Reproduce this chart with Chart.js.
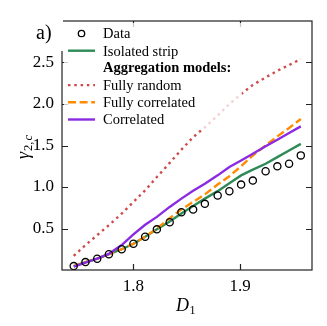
<!DOCTYPE html>
<html>
<head>
<meta charset="utf-8">
<script src="https://cdn.jsdelivr.net/npm/chart.js@4/dist/chart.umd.min.js"></script>
<style>
  html, body { margin: 0; padding: 0; background: #fff; }
  #c { display: block; }
</style>
</head>
<body>
<canvas id="c" width="327" height="326"></canvas>
<script>
// D1 values (x) and gamma_{2,c} for each curve
const dVals      = [1.744, 1.755, 1.766, 1.777, 1.789, 1.800, 1.811, 1.822, 1.834, 1.845, 1.856, 1.867, 1.879, 1.890, 1.901, 1.912, 1.924, 1.935, 1.946, 1.957];
const dataVals   = [0.047, 0.095, 0.136, 0.19, 0.25, 0.316, 0.40, 0.49, 0.576, 0.696, 0.728, 0.797, 0.897, 0.948, 1.029, 1.077, 1.189, 1.249, 1.281, 1.381];
const stripVals  = [0.047, 0.095, 0.136, 0.19, 0.25, 0.316, 0.40, 0.49, 0.585, 0.68, 0.77, 0.86, 0.95, 1.045, 1.14, 1.21, 1.28, 1.36, 1.44, 1.52];
const randomVals = [0.17, 0.30, 0.42, 0.54, 0.68, 0.82, 0.96, 1.12, 1.29, 1.45, 1.60, 1.72, 1.86, 2.00, 2.12, 2.23, 2.32, 2.40, 2.47, 2.54];
const fullCorrVals = [0.047, 0.095, 0.136, 0.19, 0.25, 0.316, 0.40, 0.50, 0.625, 0.73, 0.82, 0.91, 1.03, 1.13, 1.25, 1.38, 1.50, 1.61, 1.71, 1.82];
const corrVals   = [0.04, 0.09, 0.137, 0.195, 0.30, 0.43, 0.545, 0.64, 0.76, 0.86, 0.955, 1.04, 1.14, 1.24, 1.32, 1.40, 1.49, 1.57, 1.65, 1.73];

const xTicks = [1.8, 1.9];
const yTicks = [0.5, 1.0, 1.5, 2.0, 2.5];
const legendHeader = 'Aggregation models:';

const SERIF = '"Liberation Serif", "DejaVu Serif", serif';
const pts = vals => vals.map((v, i) => ({ x: dVals[i], y: v }));

const datasets = [
  { label: 'Data', data: pts(dataVals), showLine: false, pointRadius: 3.6, pointBorderWidth: 1.3,
    pointBorderColor: '#000', pointBackgroundColor: 'rgba(0,0,0,0)', order: 0 },
  { label: 'Isolated strip', data: pts(stripVals), borderColor: '#2e8b57', order: 3 },
  { label: 'Fully random', data: pts(randomVals), borderColor: '#cf4a4a', borderDash: [2.5, 3.8], order: 4 },
  { label: 'Fully correlated', data: pts(fullCorrVals), borderColor: '#ff8c00', borderDash: [8, 3.6], order: 2 },
  { label: 'Correlated', data: pts(corrVals), borderColor: '#8a2be2', order: 1 },
];
datasets.forEach(ds => {
  if (ds.showLine === false) return;
  Object.assign(ds, { showLine: true, pointRadius: 0, borderWidth: 2.4, tension: 0, fill: false });
});

// frame, inward ticks, legend box, axis titles, panel label
const decor = {
  id: 'decor',
  afterDatasetsDraw(chart) {
    const { ctx, chartArea: a, scales: { x, y } } = chart;
    ctx.save();
    ctx.strokeStyle = '#222';
    ctx.lineWidth = 1.2;
    ctx.strokeRect(a.left, a.top, a.right - a.left, a.bottom - a.top);
    ctx.beginPath();
    xTicks.forEach(v => {
      const px = Math.round(x.getPixelForValue(v)) + 0.5;
      ctx.moveTo(px, a.bottom); ctx.lineTo(px, a.bottom - 6);
      ctx.moveTo(px, a.top); ctx.lineTo(px, a.top + 6);
    });
    yTicks.forEach(v => {
      const py = Math.round(y.getPixelForValue(v)) + 0.5;
      ctx.moveTo(a.left, py); ctx.lineTo(a.left + 6, py);
      ctx.moveTo(a.right, py); ctx.lineTo(a.right - 6, py);
    });
    ctx.stroke();

    // legend (semi-transparent white box like matplotlib)
    ctx.fillStyle = 'rgba(255,255,255,0.75)';
    ctx.fillRect(a.left + 2, a.top + 2, 178, 107);
    const rows = [
      { ds: datasets[0] }, { ds: datasets[1] }, { header: legendHeader },
      { ds: datasets[2] }, { ds: datasets[3] }, { ds: datasets[4] },
    ];
    const x0 = a.left + 6, x1 = a.left + 33, tx = a.left + 41;
    rows.forEach((r, i) => {
      const cy = a.top + 12.5 + i * 17.2;
      ctx.textBaseline = 'middle';
      ctx.textAlign = 'left';
      ctx.fillStyle = '#000';
      if (r.header) {
        ctx.font = 'bold 14.5px ' + SERIF;
        ctx.fillText(r.header, tx, cy);
        return;
      }
      const ds = r.ds;
      if (ds.showLine) {
        ctx.save();
        ctx.strokeStyle = ds.borderColor;
        ctx.lineWidth = ds.borderWidth;
        ctx.setLineDash(ds.borderDash || []);
        ctx.beginPath();
        ctx.moveTo(x0, cy); ctx.lineTo(x1, cy);
        ctx.stroke();
        ctx.restore();
      } else {
        ctx.save();
        ctx.strokeStyle = ds.pointBorderColor;
        ctx.lineWidth = ds.pointBorderWidth;
        ctx.beginPath();
        ctx.arc((x0 + x1) / 2, cy, ds.pointRadius - 0.4, 0, Math.PI * 2);
        ctx.stroke();
        ctx.restore();
      }
      ctx.font = '14.5px ' + SERIF;
      ctx.fillText(ds.label, tx, cy + 1);
    });

    // x title: D_1
    ctx.fillStyle = '#000';
    ctx.textBaseline = 'alphabetic';
    ctx.textAlign = 'left';
    ctx.font = 'italic 18px ' + SERIF;
    const dW = ctx.measureText('D').width;
    const xt = (a.left + a.right) / 2 - 11;
    ctx.fillText('D', xt, 311);
    ctx.font = '12px ' + SERIF;
    ctx.fillText('1', xt + dW + 0.5, 314);

    // y title: gamma_{2,c}
    ctx.save();
    ctx.translate(29, 159);
    ctx.rotate(-Math.PI / 2);
    ctx.font = 'italic 18px ' + SERIF;
    const gW = ctx.measureText('\u03b3').width;
    ctx.fillText('\u03b3', 0, 0);
    ctx.font = '12.5px ' + SERIF;
    ctx.fillText('2,', gW + 1, 3);
    const w2 = ctx.measureText('2,').width;
    ctx.font = 'italic 12.5px ' + SERIF;
    ctx.fillText('c', gW + 2 + w2, 3);
    ctx.restore();

    // panel label with opaque white box
    ctx.fillStyle = '#fff';
    ctx.fillRect(30, a.top - 1, a.left - 30 + 1, 31);
    ctx.fillStyle = '#000';
    ctx.font = '20px ' + SERIF;
    ctx.fillText('a)', 36, 39);
    ctx.restore();
  }
};

new Chart(document.getElementById('c'), {
  type: 'scatter',
  data: { datasets },
  options: {
    responsive: false,
    animation: false,
    events: [],
    layout: { padding: { top: 21, right: 15, left: 0, bottom: 0 } },
    plugins: { legend: { display: false }, tooltip: { enabled: false } },
    scales: {
      x: {
        type: 'linear', min: 1.733, max: 1.9675,
        grid: { display: false, drawTicks: false },
        border: { display: false },
        afterBuildTicks: s => { s.ticks = xTicks.map(v => ({ value: v })); },
        afterFit: s => { s.height = 56; },
        ticks: { padding: 6, color: '#000', font: { family: SERIF, size: 17 }, callback: v => v.toFixed(1) },
      },
      y: {
        type: 'linear', min: 0, max: 3.0,
        grid: { display: false, drawTicks: false },
        border: { display: false },
        afterBuildTicks: s => { s.ticks = yTicks.map(v => ({ value: v })); },
        afterFit: s => { s.width = 62; },
        ticks: { padding: 8, color: '#000', font: { family: SERIF, size: 17 }, callback: v => v.toFixed(1) },
      },
    },
  },
  plugins: [decor],
});
</script>
</body>
</html>
